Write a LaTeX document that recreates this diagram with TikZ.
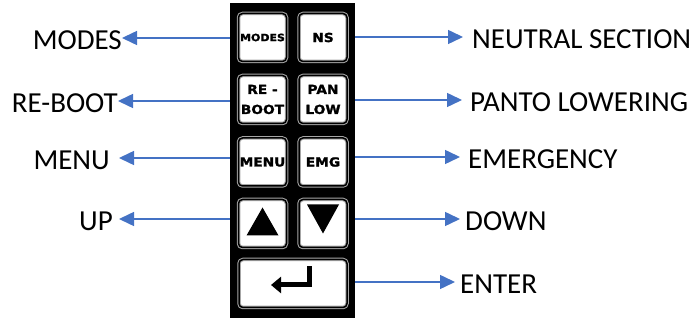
\documentclass[tikz,border=0pt]{standalone}
\usepackage{fontspec}
\setmainfont{Carlito}
\newfontfamily\keyfont{DejaVu Sans Bold}[FakeStretch=1.1, FakeBold=1.6]
\usetikzlibrary{positioning,arrows.meta}
\definecolor{arrowblue}{RGB}{68,114,196}

\begin{document}
\begin{tikzpicture}[x=1pt, y=-1pt,
        key/.style={draw=gray!70, double=black, double distance=1.5pt, line width=1pt, fill=white,
            rounded corners=4pt, minimum width=48pt, minimum height=48pt, inner sep=0pt, align=center,
            font=\keyfont\fontsize{12.5}{20}\selectfont},
        lbl/.style={inner sep=0pt, font=\fontsize{29}{30}\selectfont, yshift=-2pt},
        arr/.style={arrowblue, line width=1.5pt, -{Triangle[length=15pt,width=14pt]}}]
        \useasboundingbox (0,0) rectangle (694,320);

        \node[fill=black, minimum width=125pt, minimum height=315pt, inner sep=0pt] (panel) at (292.5,160.5) {};

        \node[key, font=\keyfont\fontsize{10}{20}\selectfont] (modes) at (262.5,37.5) {MODES};
        \node[key] (ns) at (323,37.5) {NS};
        \node[key] (reboot) at (262.5,99.5) {RE -\\BOOT};
        \node[key] (panlow) at (323,99.5) {PAN\\LOW};
        \node[key] (menu) at (262.5,162) {MENU};
        \node[key] (emg) at (323,162) {EMG};
        \node[key] (up) at (262.5,223.5) {};
        \node[key] (down) at (323,223.5) {};
        \node[key, minimum width=108pt] (enter) at (293,283.5) {};

        \fill ([shift={(0,-16)}]up.center) -- ([shift={(16,12)}]up.center) -- ([shift={(-16,12)}]up.center) -- cycle;
        \fill ([shift={(-16,-19)}]down.center) -- ([shift={(16,-19)}]down.center) -- ([shift={(0,10)}]down.center) -- cycle;
        \draw[line width=5pt, -{Triangle[length=10pt,width=16pt]}] ([shift={(16,-17)}]enter.center) |- ([shift={(-22,1.5)}]enter.center);

        \coordinate (tmodes) at (122,38);
        \coordinate (treboot) at (118,101);
        \coordinate (tmenu) at (119,158);
        \coordinate (tup) at (119,219);
        \node[lbl, left=0pt of tmodes] (lmodes) {MODES};
        \node[lbl, left=0pt of treboot] (lreboot) {RE-BOOT};
        \node[lbl, left=9pt of tmenu] (lmenu) {MENU};
        \node[lbl, left=6pt of tup] (lup) {UP};
        \draw[arr] (panel.west |- tmodes) -- (tmodes);
        \draw[arr] (panel.west |- treboot) -- (treboot);
        \draw[arr] (panel.west |- tmenu) -- (tmenu);
        \draw[arr] (panel.west |- tup) -- (tup);

        \coordinate (tns) at (463,37);
        \coordinate (tpanlow) at (462,100);
        \coordinate (temg) at (460,157);
        \coordinate (tdown) at (460,219);
        \coordinate (tenter) at (455,282);
        \node[lbl, right=9pt of tns] (lns) {NEUTRAL SECTION};
        \node[lbl, right=8pt of tpanlow] (lpanlow) {PANTO LOWERING};
        \node[lbl, right=8pt of temg] (lemg) {EMERGENCY};
        \node[lbl, right=5pt of tdown] (ldown) {DOWN};
        \node[lbl, right=5pt of tenter] (lenter) {ENTER};
        \draw[arr] (panel.east |- tns) -- (tns);
        \draw[arr] (panel.east |- tpanlow) -- (tpanlow);
        \draw[arr] (panel.east |- temg) -- (temg);
        \draw[arr] (panel.east |- tdown) -- (tdown);
        \draw[arr] (panel.east |- tenter) -- (tenter);
    \end{tikzpicture}
\end{document}
